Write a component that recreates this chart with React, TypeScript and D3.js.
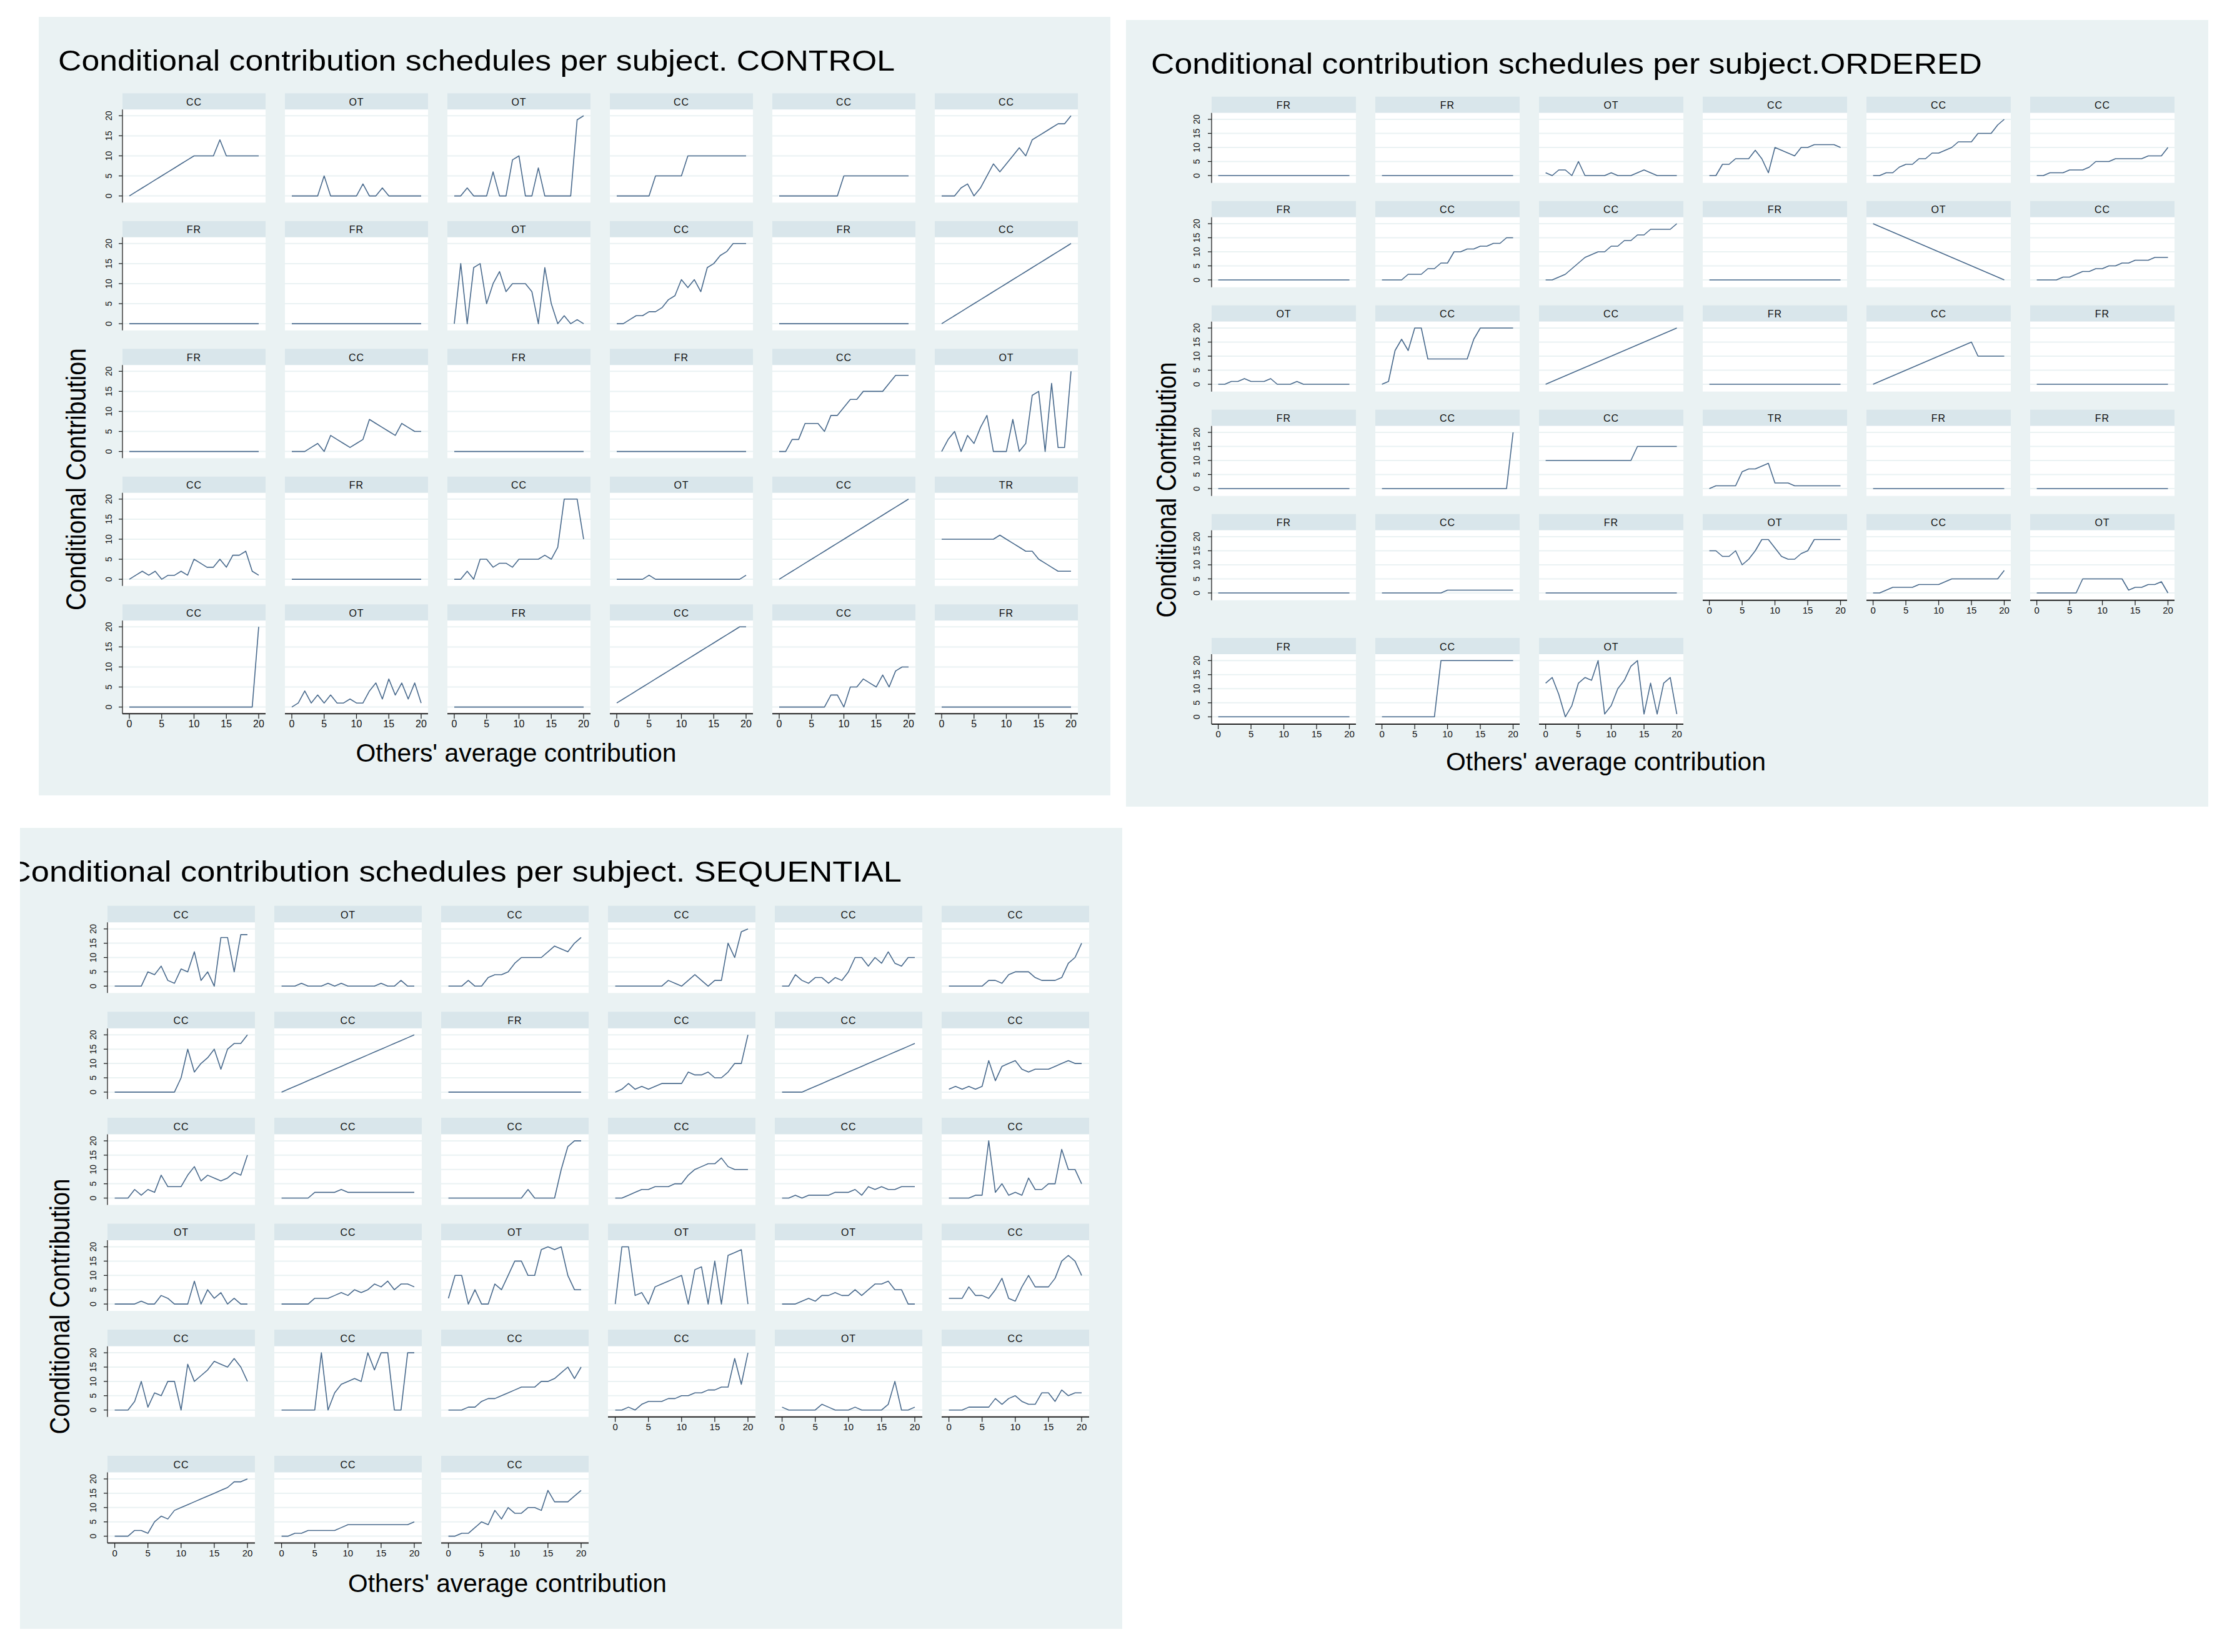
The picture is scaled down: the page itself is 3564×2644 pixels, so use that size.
import * as d3 from "d3";

// x values: others' average contribution
const others = [0, 1, 2, 3, 4, 5, 6, 7, 8, 9, 10, 11, 12, 13, 14, 15, 16, 17, 18, 19, 20];
const axisTicks = [0, 5, 10, 15, 20];

// CONTROL
const controlTypes = [
  "CC", "OT", "OT", "CC", "CC", "CC",
  "FR", "FR", "OT", "CC", "FR", "CC",
  "FR", "CC", "FR", "FR", "CC", "OT",
  "CC", "FR", "CC", "OT", "CC", "TR",
  "CC", "OT", "FR", "CC", "CC", "FR",
];
const controlSchedules = [
  [0, 1, 2, 3, 4, 5, 6, 7, 8, 9, 10, 10, 10, 10, 14, 10, 10, 10, 10, 10, 10],
  [0, 0, 0, 0, 0, 5, 0, 0, 0, 0, 0, 3, 0, 0, 2, 0, 0, 0, 0, 0, 0],
  [0, 0, 2, 0, 0, 0, 6, 0, 0, 9, 10, 0, 0, 7, 0, 0, 0, 0, 0, 19, 20],
  [0, 0, 0, 0, 0, 0, 5, 5, 5, 5, 5, 10, 10, 10, 10, 10, 10, 10, 10, 10, 10],
  [0, 0, 0, 0, 0, 0, 0, 0, 0, 0, 5, 5, 5, 5, 5, 5, 5, 5, 5, 5, 5],
  [0, 0, 0, 2, 3, 0, 2, 5, 8, 6, 8, 10, 12, 10, 14, 15, 16, 17, 18, 18, 20],
  [0, 0, 0, 0, 0, 0, 0, 0, 0, 0, 0, 0, 0, 0, 0, 0, 0, 0, 0, 0, 0],
  [0, 0, 0, 0, 0, 0, 0, 0, 0, 0, 0, 0, 0, 0, 0, 0, 0, 0, 0, 0, 0],
  [0, 15, 0, 14, 15, 5, 10, 13, 8, 10, 10, 10, 8, 0, 14, 5, 0, 2, 0, 1, 0],
  [0, 0, 1, 2, 2, 3, 3, 4, 6, 7, 11, 9, 11, 8, 14, 15, 17, 18, 20, 20, 20],
  [0, 0, 0, 0, 0, 0, 0, 0, 0, 0, 0, 0, 0, 0, 0, 0, 0, 0, 0, 0, 0],
  [0, 1, 2, 3, 4, 5, 6, 7, 8, 9, 10, 11, 12, 13, 14, 15, 16, 17, 18, 19, 20],
  [0, 0, 0, 0, 0, 0, 0, 0, 0, 0, 0, 0, 0, 0, 0, 0, 0, 0, 0, 0, 0],
  [0, 0, 0, 1, 2, 0, 4, 3, 2, 1, 2, 3, 8, 7, 6, 5, 4, 7, 6, 5, 5],
  [0, 0, 0, 0, 0, 0, 0, 0, 0, 0, 0, 0, 0, 0, 0, 0, 0, 0, 0, 0, 0],
  [0, 0, 0, 0, 0, 0, 0, 0, 0, 0, 0, 0, 0, 0, 0, 0, 0, 0, 0, 0, 0],
  [0, 0, 3, 3, 7, 7, 7, 5, 9, 9, 11, 13, 13, 15, 15, 15, 15, 17, 19, 19, 19],
  [0, 3, 5, 0, 4, 2, 6, 9, 0, 0, 0, 8, 0, 2, 14, 15, 0, 17, 1, 1, 20],
  [0, 1, 2, 1, 2, 0, 1, 1, 2, 1, 5, 4, 3, 3, 5, 3, 6, 6, 7, 2, 1],
  [0, 0, 0, 0, 0, 0, 0, 0, 0, 0, 0, 0, 0, 0, 0, 0, 0, 0, 0, 0, 0],
  [0, 0, 2, 0, 5, 5, 3, 4, 4, 3, 5, 5, 5, 5, 6, 5, 8, 20, 20, 20, 10],
  [0, 0, 0, 0, 0, 1, 0, 0, 0, 0, 0, 0, 0, 0, 0, 0, 0, 0, 0, 0, 1],
  [0, 1, 2, 3, 4, 5, 6, 7, 8, 9, 10, 11, 12, 13, 14, 15, 16, 17, 18, 19, 20],
  [10, 10, 10, 10, 10, 10, 10, 10, 10, 11, 10, 9, 8, 7, 7, 5, 4, 3, 2, 2, 2],
  [0, 0, 0, 0, 0, 0, 0, 0, 0, 0, 0, 0, 0, 0, 0, 0, 0, 0, 0, 0, 20],
  [0, 1, 4, 1, 3, 1, 3, 1, 1, 2, 1, 1, 4, 6, 2, 7, 3, 6, 2, 6, 1],
  [0, 0, 0, 0, 0, 0, 0, 0, 0, 0, 0, 0, 0, 0, 0, 0, 0, 0, 0, 0, 0],
  [1, 2, 3, 4, 5, 6, 7, 8, 9, 10, 11, 12, 13, 14, 15, 16, 17, 18, 19, 20, 20],
  [0, 0, 0, 0, 0, 0, 0, 0, 3, 3, 0, 5, 5, 7, 6, 5, 8, 5, 9, 10, 10],
  [0, 0, 0, 0, 0, 0, 0, 0, 0, 0, 0, 0, 0, 0, 0, 0, 0, 0, 0, 0, 0],
];

// ORDERED
const orderedTypes = [
  "FR", "FR", "OT", "CC", "CC", "CC",
  "FR", "CC", "CC", "FR", "OT", "CC",
  "OT", "CC", "CC", "FR", "CC", "FR",
  "FR", "CC", "CC", "TR", "FR", "FR",
  "FR", "CC", "FR", "OT", "CC", "OT",
  "FR", "CC", "OT",
];
const orderedSchedules = [
  [0, 0, 0, 0, 0, 0, 0, 0, 0, 0, 0, 0, 0, 0, 0, 0, 0, 0, 0, 0, 0],
  [0, 0, 0, 0, 0, 0, 0, 0, 0, 0, 0, 0, 0, 0, 0, 0, 0, 0, 0, 0, 0],
  [1, 0, 2, 2, 0, 5, 0, 0, 0, 0, 1, 0, 0, 0, 1, 2, 1, 0, 0, 0, 0],
  [0, 0, 4, 4, 6, 6, 6, 9, 6, 1, 10, 9, 8, 7, 10, 10, 11, 11, 11, 11, 10],
  [0, 0, 1, 1, 3, 4, 4, 6, 6, 8, 8, 9, 10, 12, 12, 12, 15, 15, 15, 18, 20],
  [0, 0, 1, 1, 1, 2, 2, 2, 3, 5, 5, 5, 6, 6, 6, 6, 6, 7, 7, 7, 10],
  [0, 0, 0, 0, 0, 0, 0, 0, 0, 0, 0, 0, 0, 0, 0, 0, 0, 0, 0, 0, 0],
  [0, 0, 0, 0, 2, 2, 2, 4, 4, 6, 6, 10, 10, 11, 11, 12, 12, 13, 13, 15, 15],
  [0, 0, 1, 2, 4, 6, 8, 9, 10, 10, 12, 12, 14, 14, 16, 16, 18, 18, 18, 18, 20],
  [0, 0, 0, 0, 0, 0, 0, 0, 0, 0, 0, 0, 0, 0, 0, 0, 0, 0, 0, 0, 0],
  [20, 19, 18, 17, 16, 15, 14, 13, 12, 11, 10, 9, 8, 7, 6, 5, 4, 3, 2, 1, 0],
  [0, 0, 0, 0, 1, 1, 2, 3, 3, 4, 4, 5, 5, 6, 6, 7, 7, 7, 8, 8, 8],
  [0, 0, 1, 1, 2, 1, 1, 1, 2, 0, 0, 0, 1, 0, 0, 0, 0, 0, 0, 0, 0],
  [0, 1, 12, 16, 12, 20, 20, 9, 9, 9, 9, 9, 9, 9, 16, 20, 20, 20, 20, 20, 20],
  [0, 1, 2, 3, 4, 5, 6, 7, 8, 9, 10, 11, 12, 13, 14, 15, 16, 17, 18, 19, 20],
  [0, 0, 0, 0, 0, 0, 0, 0, 0, 0, 0, 0, 0, 0, 0, 0, 0, 0, 0, 0, 0],
  [0, 1, 2, 3, 4, 5, 6, 7, 8, 9, 10, 11, 12, 13, 14, 15, 10, 10, 10, 10, 10],
  [0, 0, 0, 0, 0, 0, 0, 0, 0, 0, 0, 0, 0, 0, 0, 0, 0, 0, 0, 0, 0],
  [0, 0, 0, 0, 0, 0, 0, 0, 0, 0, 0, 0, 0, 0, 0, 0, 0, 0, 0, 0, 0],
  [0, 0, 0, 0, 0, 0, 0, 0, 0, 0, 0, 0, 0, 0, 0, 0, 0, 0, 0, 0, 20],
  [10, 10, 10, 10, 10, 10, 10, 10, 10, 10, 10, 10, 10, 10, 15, 15, 15, 15, 15, 15, 15],
  [0, 1, 1, 1, 1, 6, 7, 7, 8, 9, 2, 2, 2, 1, 1, 1, 1, 1, 1, 1, 1],
  [0, 0, 0, 0, 0, 0, 0, 0, 0, 0, 0, 0, 0, 0, 0, 0, 0, 0, 0, 0, 0],
  [0, 0, 0, 0, 0, 0, 0, 0, 0, 0, 0, 0, 0, 0, 0, 0, 0, 0, 0, 0, 0],
  [0, 0, 0, 0, 0, 0, 0, 0, 0, 0, 0, 0, 0, 0, 0, 0, 0, 0, 0, 0, 0],
  [0, 0, 0, 0, 0, 0, 0, 0, 0, 0, 1, 1, 1, 1, 1, 1, 1, 1, 1, 1, 1],
  [0, 0, 0, 0, 0, 0, 0, 0, 0, 0, 0, 0, 0, 0, 0, 0, 0, 0, 0, 0, 0],
  [15, 15, 13, 13, 15, 10, 12, 15, 19, 19, 16, 13, 12, 12, 14, 15, 19, 19, 19, 19, 19],
  [0, 0, 1, 2, 2, 2, 2, 3, 3, 3, 3, 4, 5, 5, 5, 5, 5, 5, 5, 5, 8],
  [0, 0, 0, 0, 0, 0, 0, 5, 5, 5, 5, 5, 5, 5, 1, 2, 2, 3, 3, 4, 0],
  [0, 0, 0, 0, 0, 0, 0, 0, 0, 0, 0, 0, 0, 0, 0, 0, 0, 0, 0, 0, 0],
  [0, 0, 0, 0, 0, 0, 0, 0, 0, 20, 20, 20, 20, 20, 20, 20, 20, 20, 20, 20, 20],
  [12, 14, 8, 0, 4, 12, 14, 13, 20, 1, 4, 10, 13, 18, 20, 1, 12, 1, 12, 14, 1],
];

// SEQUENTIAL
const sequentialTypes = [
  "CC", "OT", "CC", "CC", "CC", "CC",
  "CC", "CC", "FR", "CC", "CC", "CC",
  "CC", "CC", "CC", "CC", "CC", "CC",
  "OT", "CC", "OT", "OT", "OT", "CC",
  "CC", "CC", "CC", "CC", "OT", "CC",
  "CC", "CC", "CC",
];
const sequentialSchedules = [
  [0, 0, 0, 0, 0, 5, 4, 7, 2, 1, 6, 5, 12, 2, 5, 0, 17, 17, 5, 18, 18],
  [0, 0, 0, 1, 0, 0, 0, 1, 0, 1, 0, 0, 0, 0, 0, 1, 0, 0, 2, 0, 0],
  [0, 0, 0, 2, 0, 0, 3, 4, 4, 5, 8, 10, 10, 10, 10, 12, 14, 13, 12, 15, 17],
  [0, 0, 0, 0, 0, 0, 0, 0, 2, 1, 0, 2, 4, 2, 0, 2, 2, 15, 10, 19, 20],
  [0, 0, 4, 2, 1, 3, 3, 1, 3, 2, 5, 10, 10, 7, 10, 8, 12, 8, 7, 10, 10],
  [0, 0, 0, 0, 0, 0, 2, 2, 1, 4, 5, 5, 5, 3, 2, 2, 2, 3, 8, 10, 15],
  [0, 0, 0, 0, 0, 0, 0, 0, 0, 0, 5, 15, 7, 10, 12, 15, 8, 15, 17, 17, 20],
  [0, 1, 2, 3, 4, 5, 6, 7, 8, 9, 10, 11, 12, 13, 14, 15, 16, 17, 18, 19, 20],
  [0, 0, 0, 0, 0, 0, 0, 0, 0, 0, 0, 0, 0, 0, 0, 0, 0, 0, 0, 0, 0],
  [0, 1, 3, 1, 2, 1, 2, 3, 3, 3, 3, 7, 6, 6, 7, 5, 5, 7, 10, 10, 20],
  [0, 0, 0, 0, 1, 2, 3, 4, 5, 6, 7, 8, 9, 10, 11, 12, 13, 14, 15, 16, 17],
  [1, 2, 1, 2, 1, 2, 11, 4, 9, 10, 11, 8, 7, 8, 8, 8, 9, 10, 11, 10, 10],
  [0, 0, 0, 3, 1, 3, 2, 8, 4, 4, 4, 8, 11, 6, 8, 7, 6, 7, 9, 8, 15],
  [0, 0, 0, 0, 0, 2, 2, 2, 2, 3, 2, 2, 2, 2, 2, 2, 2, 2, 2, 2, 2],
  [0, 0, 0, 0, 0, 0, 0, 0, 0, 0, 0, 0, 3, 0, 0, 0, 0, 10, 18, 20, 20],
  [0, 0, 1, 2, 3, 3, 4, 4, 4, 5, 5, 8, 10, 11, 12, 12, 14, 11, 10, 10, 10],
  [0, 0, 1, 0, 1, 1, 1, 1, 2, 2, 2, 3, 1, 4, 3, 4, 3, 3, 4, 4, 4],
  [0, 0, 0, 0, 1, 1, 20, 2, 5, 1, 2, 1, 7, 3, 3, 5, 5, 17, 10, 10, 5],
  [0, 0, 0, 0, 1, 0, 0, 3, 2, 0, 0, 0, 8, 0, 5, 2, 4, 0, 2, 0, 0],
  [0, 0, 0, 0, 0, 2, 2, 2, 3, 4, 3, 5, 4, 5, 7, 6, 8, 5, 7, 7, 6],
  [2, 10, 10, 0, 5, 0, 0, 7, 5, 10, 15, 15, 10, 10, 19, 20, 19, 20, 10, 5, 5],
  [0, 20, 20, 3, 4, 0, 6, 7, 8, 9, 10, 0, 12, 13, 0, 15, 0, 17, 18, 19, 0],
  [0, 0, 0, 1, 2, 1, 3, 3, 4, 3, 3, 5, 3, 5, 7, 7, 8, 5, 5, 0, 0],
  [2, 2, 2, 6, 3, 3, 2, 5, 9, 2, 1, 6, 10, 6, 6, 6, 9, 15, 17, 15, 10],
  [0, 0, 0, 3, 10, 1, 6, 5, 10, 10, 0, 16, 10, 12, 14, 17, 16, 15, 18, 15, 10],
  [0, 0, 0, 0, 0, 0, 20, 0, 6, 9, 10, 11, 10, 20, 14, 20, 20, 0, 0, 20, 20],
  [0, 0, 0, 1, 1, 3, 4, 4, 5, 6, 7, 8, 8, 8, 10, 10, 11, 13, 15, 11, 15],
  [0, 0, 1, 0, 2, 3, 3, 3, 4, 4, 5, 5, 6, 6, 7, 7, 8, 8, 18, 9, 20],
  [1, 0, 0, 0, 0, 0, 2, 1, 0, 0, 0, 1, 0, 0, 0, 0, 2, 10, 0, 0, 1],
  [0, 0, 0, 1, 1, 1, 1, 4, 2, 4, 5, 3, 2, 2, 6, 6, 3, 7, 5, 6, 6],
  [0, 0, 0, 2, 2, 1, 5, 7, 6, 9, 10, 11, 12, 13, 14, 15, 16, 17, 19, 19, 20],
  [0, 0, 1, 1, 2, 2, 2, 2, 2, 3, 4, 4, 4, 4, 4, 4, 4, 4, 4, 4, 5],
  [0, 0, 1, 1, 3, 5, 4, 9, 6, 10, 8, 8, 10, 10, 9, 16, 12, 12, 12, 14, 16],
];

const FONT = "'Liberation Sans', Arial, Helvetica, sans-serif";
const BG = "#eaf2f3";
const STRIP = "#d9e6eb";
const LINE = "#48698c";

type Layout = {
  id: string;
  bg: number[]; // x, y, w, h
  title: string;
  titleX: number;
  titleY: number;
  titleLen: number;
  colX0: number;
  colStep: number;
  plotW: number;
  padL: number;
  padR: number;
  rowTops: number[];
  headerH: number;
  plotH: number;
  y20: number;
  y0: number;
  xTitleX: number;
  xTitleY: number;
  xTitleLen: number;
  yTitleX: number;
  yTitleY: number;
  yTitleLen: number;
  yLabelOff: number;
  tickFont: number;
};

const controlLayout: Layout = {
  id: "control",
  bg: [62, 27, 1715, 1246],
  title: "Conditional contribution schedules per subject. CONTROL",
  titleX: 93,
  titleY: 113,
  titleLen: 1339,
  colX0: 196,
  colStep: 260,
  plotW: 229,
  padL: 11,
  padR: 11,
  rowTops: [149.3, 353.8, 558.3, 762.8, 967.3],
  headerH: 26,
  plotH: 149,
  y20: 10,
  y0: 138.3,
  xTitleX: 826,
  xTitleY: 1219,
  xTitleLen: 513,
  yTitleX: 121,
  yTitleY: 767,
  yTitleLen: 420,
  yLabelOff: 22,
  tickFont: 16,
};

const orderedLayout: Layout = {
  id: "ordered",
  bg: [1802, 32, 1732, 1259],
  title: "Conditional contribution schedules per subject.ORDERED",
  titleX: 1842,
  titleY: 118,
  titleLen: 1330,
  colX0: 1939,
  colStep: 262,
  plotW: 231,
  padL: 10.6,
  padR: 10.5,
  rowTops: [154.7, 321.7, 488.7, 655.7, 822.7, 1021],
  headerH: 26,
  plotH: 112,
  y20: 10.3,
  y0: 100.3,
  xTitleX: 2570,
  xTitleY: 1233,
  xTitleLen: 512,
  yTitleX: 1866,
  yTitleY: 784,
  yTitleLen: 409,
  yLabelOff: 24,
  tickFont: 15,
};

const sequentialLayout: Layout = {
  id: "sequential",
  bg: [32, 1325, 1764, 1282],
  title: "Conditional contribution schedules per subject. SEQUENTIAL",
  titleX: 12,
  titleY: 1411,
  titleLen: 1431,
  colX0: 172,
  colStep: 267,
  plotW: 236,
  padL: 11.6,
  padR: 12,
  rowTops: [1449.7, 1619.3, 1788.9, 1958.5, 2128.1, 2330],
  headerH: 26.6,
  plotH: 113,
  y20: 10.4,
  y0: 102,
  xTitleX: 812,
  xTitleY: 2548,
  xTitleLen: 510,
  yTitleX: 95,
  yTitleY: 2091,
  yTitleLen: 409,
  yLabelOff: 23,
  tickFont: 15,
};

function Panel({ layout, types, schedules }: { layout: Layout; types: string[]; schedules: number[][] }) {
  const L = layout;
  const n = types.length;
  const ncol = 6;
  const [bx, by, bw, bh] = L.bg;
  return (
    <g>
      <defs>
        <clipPath id={`clip-${L.id}`}>
          <rect x={bx} y={by} width={bw} height={bh} />
        </clipPath>
      </defs>
      <rect x={bx} y={by} width={bw} height={bh} fill={BG} />
      <g clipPath={`url(#clip-${L.id})`}>
        <text
          x={L.titleX}
          y={L.titleY}
          fontSize={46}
          fontFamily={FONT}
          fill="#000"
          textLength={L.titleLen}
          lengthAdjust="spacingAndGlyphs"
        >
          {L.title}
        </text>
      </g>
      {types.map((type, i) => {
        const r = Math.floor(i / ncol);
        const c = i % ncol;
        const cx = L.colX0 + c * L.colStep;
        const top = L.rowTops[r];
        const pTop = top + L.headerH;
        const pBot = pTop + L.plotH;
        const x = d3.scaleLinear().domain([0, 20]).range([cx + L.padL, cx + L.plotW - L.padR]);
        const y = d3.scaleLinear().domain([0, 20]).range([pTop + L.y0, pTop + L.y20]);
        const line = d3
          .line<number>()
          .x((_, j) => x(others[j]))
          .y((v) => y(v));
        const hasX = i + ncol >= n;
        return (
          <g key={i}>
            <rect x={cx} y={top} width={L.plotW} height={L.headerH} fill={STRIP} />
            <text
              x={cx + L.plotW / 2}
              y={top + L.headerH / 2 + 1}
              textAnchor="middle"
              dominantBaseline="central"
              fontSize={16}
              fontFamily={FONT}
              letterSpacing={1}
              fill="#111"
            >
              {type}
            </text>
            <rect x={cx} y={pTop} width={L.plotW} height={L.plotH} fill="#fff" />
            {axisTicks.map((t) => (
              <line key={t} x1={cx} x2={cx + L.plotW} y1={y(t)} y2={y(t)} stroke={BG} strokeWidth={2} />
            ))}
            <path d={line(schedules[i]) ?? ""} fill="none" stroke={LINE} strokeWidth={1.6} strokeLinejoin="round" />
            {c === 0 && (
              <g>
                <line x1={cx} x2={cx} y1={pTop} y2={pBot} stroke="#222" strokeWidth={1.3} />
                {axisTicks.map((t) => (
                  <g key={t}>
                    <line x1={cx - 6} x2={cx} y1={y(t)} y2={y(t)} stroke="#222" strokeWidth={1.3} />
                    <text
                      transform={`translate(${cx - L.yLabelOff},${y(t)}) rotate(-90)`}
                      textAnchor="middle"
                      dominantBaseline="central"
                      fontSize={14}
                      fontFamily={FONT}
                      fill="#111"
                    >
                      {t}
                    </text>
                  </g>
                ))}
              </g>
            )}
            {hasX && (
              <g>
                <line x1={cx} x2={cx + L.plotW} y1={pBot} y2={pBot} stroke="#222" strokeWidth={2} />
                {axisTicks.map((t) => (
                  <g key={t}>
                    <line x1={x(t)} x2={x(t)} y1={pBot} y2={pBot + 8} stroke="#222" strokeWidth={1.3} />
                    <text
                      x={x(t)}
                      y={pBot + 10}
                      textAnchor="middle"
                      dominantBaseline="hanging"
                      fontSize={L.tickFont}
                      fontFamily={FONT}
                      fill="#111"
                    >
                      {t}
                    </text>
                  </g>
                ))}
              </g>
            )}
          </g>
        );
      })}
      <text
        x={L.xTitleX}
        y={L.xTitleY}
        textAnchor="middle"
        fontSize={41}
        fontFamily={FONT}
        fill="#000"
        textLength={L.xTitleLen}
        lengthAdjust="spacingAndGlyphs"
      >
        Others' average contribution
      </text>
      <text
        transform={`translate(${L.yTitleX},${L.yTitleY}) rotate(-90)`}
        textAnchor="middle"
        dominantBaseline="central"
        fontSize={44}
        fontFamily={FONT}
        fill="#000"
        textLength={L.yTitleLen}
        lengthAdjust="spacingAndGlyphs"
      >
        Conditional Contribution
      </text>
    </g>
  );
}

export default function App() {
  return (
    <svg
      width={3564}
      height={2644}
      viewBox="0 0 3564 2644"
      style={{ position: "absolute", left: 0, top: 0, background: "#fff" }}
    >
      <Panel layout={controlLayout} types={controlTypes} schedules={controlSchedules} />
      <Panel layout={orderedLayout} types={orderedTypes} schedules={orderedSchedules} />
      <Panel layout={sequentialLayout} types={sequentialTypes} schedules={sequentialSchedules} />
    </svg>
  );
}
